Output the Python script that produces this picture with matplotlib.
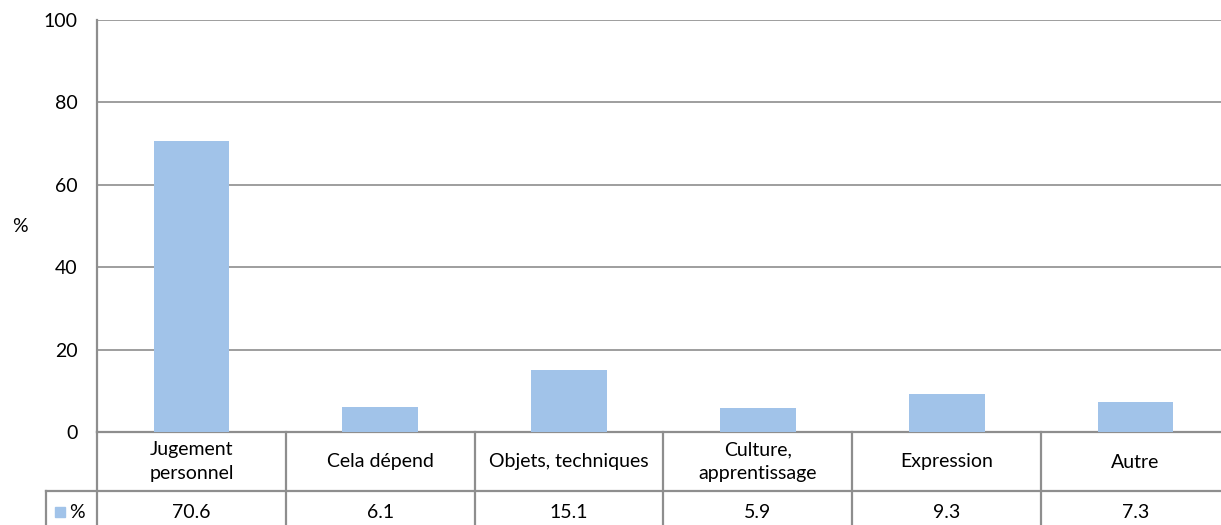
import matplotlib.pyplot as plt
from matplotlib.transforms import blended_transform_factory

plt.rcParams['font.family'] = ['Lato', 'DejaVu Sans']

# Données
categories = ['Jugement\npersonnel', 'Cela dépend', 'Objets, techniques',
              'Culture,\napprentissage', 'Expression', 'Autre']
values = [70.6, 6.1, 15.1, 5.9, 9.3, 7.3]
series_name = '%'
yticks = [0, 20, 40, 60, 80, 100]

bar_color = '#A1C3E9'
line_color = '#8E8E8E'
fs = 14

W, H = 1221, 525
fig = plt.figure(figsize=(W / 100, H / 100), dpi=100)
# la zone du graphique dépasse légèrement le bord droit de l'image
ax = fig.add_axes([97 / W, 1 - 432 / H, 1133 / W, 412 / H])

x = list(range(len(categories)))
ax.bar(x, values, width=0.4, color=bar_color, zorder=3)

ax.set_xlim(-0.5, len(categories) - 0.5)
ax.set_ylim(0, 100)
ax.set_yticks(yticks)
ax.set_yticklabels([str(t) for t in yticks], fontsize=fs)
ax.tick_params(axis='y', length=0, pad=14)
ax.set_xticks([])
ax.yaxis.grid(True, color=line_color, linewidth=1.2, zorder=0)

for side in ['top', 'right']:
    ax.spines[side].set_visible(False)
for side in ['left', 'bottom']:
    ax.spines[side].set_color(line_color)
    ax.spines[side].set_linewidth(1.6)

fig.text(20 / W, 1 - 226 / H, '%', fontsize=fs, ha='center', va='center')

# Tableau de données sous le graphique
tr = blended_transform_factory(ax.transData, fig.transFigure)
y_axis = 1 - 432 / H
y_row = 1 - 491 / H
y_bot = 0.0

for i in range(len(categories) + 1):
    xb = i - 0.5
    ax.plot([xb, xb], [y_axis, y_bot], color=line_color, lw=1.6,
            transform=tr, clip_on=False)

fig.add_artist(plt.Line2D([46 / W, 1], [y_row, y_row], color=line_color,
                          lw=1.6, transform=fig.transFigure))
fig.add_artist(plt.Line2D([46 / W, 46 / W], [y_row, y_bot], color=line_color,
                          lw=1.6, transform=fig.transFigure))

for i, (cat, val) in enumerate(zip(categories, values)):
    ax.text(i, 1 - 462 / H, cat, transform=tr, ha='center', va='center',
            fontsize=fs, linespacing=1.5)
    ax.text(i, 1 - 512 / H, f'{val:.1f}', transform=tr, ha='center',
            va='center', fontsize=fs)

# Légende dans le tableau
fig.add_artist(plt.Rectangle((55 / W, 1 - 517 / H), 10 / W, 10 / H,
                             color=bar_color, transform=fig.transFigure))
fig.text(69 / W, 1 - 512 / H, series_name, fontsize=fs, ha='left', va='center')

fig.savefig('out.png', dpi=100)
